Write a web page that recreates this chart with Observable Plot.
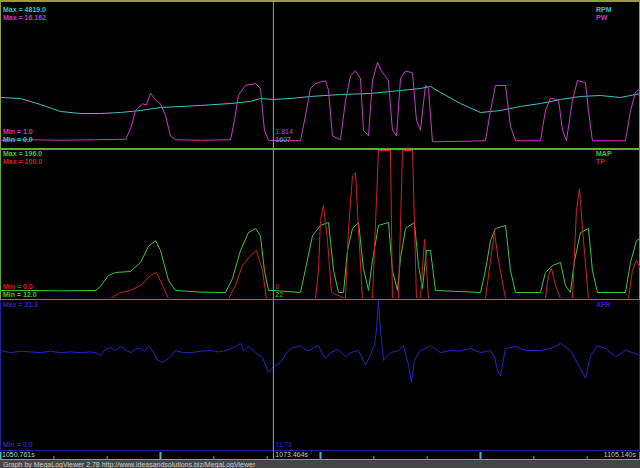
<!DOCTYPE html>
<html><head><meta charset="utf-8">
<script src="https://cdn.jsdelivr.net/npm/d3@7"></script>
<script src="https://cdn.jsdelivr.net/npm/@observablehq/plot@0.6"></script>
<style>
html,body{margin:0;padding:0;background:#000;}
#chart{position:relative;width:640px;height:468px;background:#000;overflow:hidden;}
#chart svg{position:absolute;left:0;}
.bd{position:absolute;}
</style></head><body><div id="chart"></div><script>
// ---- data: time offsets (s) from view start 1050.761s ----
const viewStart = "1050.761s", cursorLabel = "1073.464s", viewEnd = "1105.140s";
const cursorT = 22.703;
const xDomain = [0, 53.25];

const rpmT = [0,1.66,3.33,4.99,6.66,8.32,9.98,11.65,13.31,16.64,19.14,20.80,21.63,22.70,24.13,25.79,28.29,30.78,33.28,34.94,35.78,36.61,38.27,39.94,41.60,43.26,44.93,46.59,48.26,49.92,51.58,53.25];
const rpmV = [1672,1639,1442,1213,1147,1147,1180,1246,1344,1410,1475,1541,1639,1607,1639,1705,1770,1803,1901,1967,2032,1836,1475,1180,1246,1377,1475,1606,1705,1737,1672,1803];

const pwT = [0,2.50,4.99,7.90,10.40,10.82,11.23,11.81,12.15,12.48,12.90,13.31,13.73,14.14,14.56,16.64,19.14,19.47,19.80,20.38,21.22,21.63,21.96,22.30,22.70,24.96,25.38,25.79,26.21,27.04,27.29,27.62,28.29,28.70,29.12,29.54,29.95,30.20,30.62,30.95,31.37,31.70,32.28,32.61,32.95,33.28,33.70,34.28,34.61,34.94,35.36,35.61,35.94,36.61,40.35,40.77,41.18,42.02,42.43,42.85,44.93,45.34,45.76,46.43,46.76,47.09,47.59,48.01,48.67,48.92,49.25,52.00,52.42,52.83,53.25];
const pwV = [1.85,1.9,1.85,1.9,1.95,3.0,4.9,5.6,5.5,6.7,6.0,5.6,4.4,2.3,1.9,1.85,1.9,3.9,6.5,7.5,7.7,7.2,2.9,1.85,1.814,1.8,4.4,7.2,7.7,8.0,7.0,2.3,1.9,5.9,8.5,9.0,8.2,2.9,2.3,8.0,9.9,9.0,8.0,2.9,2.3,8.2,9.0,8.8,3.9,2.9,7.5,7.2,1.7,1.7,1.8,4.9,7.5,7.5,3.3,1.8,1.8,4.9,6.2,6.0,2.9,1.8,6.0,8.0,7.8,4.9,1.8,1.8,4.9,6.8,7.2];

const mapT = [0,2.50,4.99,7.90,8.32,8.99,9.57,10.82,11.65,12.31,12.90,13.31,13.98,14.56,16.64,18.72,19.30,19.97,20.63,21.22,21.63,21.96,22.30,22.70,24.96,25.38,25.96,26.62,27.29,27.71,28.12,28.54,28.87,29.29,29.79,30.20,30.62,30.95,31.45,32.28,32.61,33.03,33.28,33.70,34.44,34.78,35.11,35.44,35.78,36.19,39.94,40.35,40.77,41.18,42.02,42.43,42.85,44.93,45.34,45.93,46.59,47.01,47.42,47.76,48.26,48.92,49.25,49.67,52.00,52.42,52.92,53.25];
const mapV = [22,22,21.5,22,27,40.6,44.3,45.6,56.8,76.6,84,71.7,34.4,22,20,19.5,36.9,71.7,94,99,90,46.8,22,22,19.5,49,90,102.8,106.5,46.8,19.5,19.5,71.7,99,106.5,49.3,22,59.2,102.8,106.5,46.8,22,61.7,99,106.5,53,24.4,71.7,71.7,22,19.5,46.8,84,99,102.8,46.8,19.5,19.5,44.3,53,56.8,28,19.5,59.2,94,99,46.8,19.5,19.5,56.8,84,86.6];

const tpT = [0,9.15,9.98,10.82,11.65,12.48,12.98,13.48,13.98,18.97,19.55,20.13,20.80,21.30,21.80,22.13,26.21,26.46,26.62,26.87,27.21,27.54,28.70,28.95,29.29,29.54,29.79,30.12,30.95,31.28,31.45,32.45,32.61,33.11,33.45,34.28,34.61,34.94,35.28,35.61,40.35,40.77,41.10,41.43,42.02,45.34,45.59,45.84,46.18,46.59,47.59,47.92,48.17,48.51,48.92,52.25,52.58,52.92,53.25];
const tpV = [0,0,4,5.4,8.8,15.5,17.6,8.8,0,0,8.8,22.3,29,32.4,19,0,0,19,52.7,62.8,39,4,0,46,83,85,46,0,0,66,100,100,0,0,100,100,0,0,40,0,0,25.7,44.6,25.7,0,0,15.5,20.3,8.8,0,0,59.5,74.3,39,0,0,18.9,25.7,20.3];

const afrT = [0,0.83,1.66,2.50,3.33,4.16,4.99,5.82,6.66,7.49,7.90,8.32,8.74,9.15,9.57,9.98,10.40,10.82,11.23,11.65,11.98,12.31,12.65,13.06,13.48,13.98,14.56,15.14,15.81,16.64,17.47,18.14,18.72,19.14,19.55,19.97,20.22,20.63,21.22,21.80,22.30,22.70,23.30,23.71,24.13,24.96,25.38,25.79,26.12,26.46,26.79,27.04,27.46,28.12,28.70,29.12,29.79,30.37,30.78,31.12,31.28,31.45,31.62,31.87,32.45,33.11,33.53,33.95,34.20,34.44,34.94,35.36,35.78,36.61,37.44,38.27,39.10,39.94,40.77,41.10,41.35,41.60,42.02,42.43,42.85,43.68,44.93,45.76,46.59,47.42,48.09,48.42,48.67,49.09,49.67,50.34,51.17,52.00,52.58,53.25];
const afrV = [14.1,13.8,14.0,13.9,13.8,14.0,13.8,13.9,13.8,13.9,13.8,13.4,14.25,14.5,14.1,14.7,14.2,13.8,14.3,14.4,14.0,14.8,14.1,12.7,12.4,12.95,14.1,13.8,13.8,14.0,14.1,13.9,14.1,14.3,14.7,15.1,14.1,14.7,13.8,13.1,10.9,11.76,12.4,13.5,14.4,14.8,14.2,14.1,14.6,14.8,13.6,12.95,13.8,14.25,13.2,13.8,14.1,12.0,13.4,15.0,17.0,21.3,17.0,12.7,13.8,14.1,14.8,12.0,9.5,12.7,14.1,14.4,14.8,13.8,14.1,14.0,14.4,13.8,14.1,13.2,11.2,10.5,14.4,14.5,14.7,14.1,14.1,14.4,15.1,14.1,12.0,11.0,10.1,13.4,14.8,14.4,13.2,14.1,13.8,13.4];

// series ranges (min/max of the log)
const rpmRange = [0, 4819], pwRange = [1, 16.162], mapRange = [12, 196], tpRange = [0, 100], afrRange = [0, 21.3];
const tickCount = 12;

// ---- styling ----
const C = {rpm:"#3cc4c4", pw:"#c63cc6", map:"#3cc83c", tp:"#d02020", afr:"#2424c8", cursor:"#62b4b4",
           b1:"#9c9c34", b2:"#5cb030", b3:"#4a7cc0", b3b:"#20209a", axis:"#40bcae", timeTxt:"#a8d4cc"};
const W = 640;
const root = document.getElementById("chart");
const rows = (T, V) => T.map((t, i) => ({t, v: V[i]}));

function trace(T, V, yDomain, color, top, h, mt, mb) {
  const p = Plot.plot({
    width: W, height: h, marginTop: mt, marginBottom: mb, marginLeft: 0, marginRight: 0,
    x: {domain: xDomain, axis: null}, y: {domain: yDomain, axis: null},
    style: {background: "transparent"},
    marks: [Plot.line(rows(T, V), {x: "t", y: "v", stroke: color, strokeWidth: 1, clip: true})]
  });
  p.style.top = top + "px";
  root.append(p);
  return p;
}

function box(x, y, w, h, c) {
  const d = document.createElement("div");
  d.className = "bd";
  Object.assign(d.style, {left: x + "px", top: y + "px", width: w + "px", height: h + "px", background: c});
  root.append(d);
}

// borders
box(0, 0, 640, 2, C.b1); box(0, 0, 1, 149, C.b1); box(639, 0, 1, 149, C.b1);
box(0, 148, 640, 2, C.b2); box(0, 150, 1, 149, C.b2); box(639, 150, 1, 149, C.b2);
box(0, 299, 640, 1, C.b3); box(0, 300, 1, 150, C.b3b); box(639, 300, 1, 150, C.b3b);
box(0, 450, 640, 1, C.b3b);
box(0, 460, 640, 8, "#454545");

// traces
const p1 = trace(rpmT, rpmV, rpmRange, C.rpm, 0, 149, 1, 1);
trace(pwT, pwV, pwRange, C.pw, 0, 149, 1, 1);
trace(mapT, mapV, mapRange, C.map, 150, 149, 0, 1);
trace(tpT, tpV, tpRange, C.tp, 150, 149, 0, 1);
trace(afrT, afrV, afrRange, C.afr, 300, 149, 0, 1);

// time strip with ticks
const tickTimes = d3.range(tickCount + 1).map(i => xDomain[0] + i * (xDomain[1] - xDomain[0]) / tickCount);
const strip = Plot.plot({
  width: W, height: 11, margin: 0,
  x: {domain: xDomain, axis: null}, y: {domain: [0, 11], range: [0, 11], axis: null},
  style: {background: "transparent"},
  marks: [
    Plot.ruleY([10], {stroke: C.axis, strokeWidth: 1}),
    Plot.ruleX(tickTimes.map((t, i) => ({t, tall: i % 3 === 0})), {x: d => Math.min(d.t, xDomain[1] - 0.02), y1: d => d.tall ? 3 : 7, y2: 10, stroke: C.axis, strokeWidth: d => d.tall ? 2 : 1})
  ]
});
strip.style.top = "449px";
root.append(strip);

// cursor line across all panels
const cur = Plot.plot({
  width: W, height: 459, margin: 0,
  x: {domain: xDomain, axis: null},
  style: {background: "transparent"},
  marks: [Plot.ruleX([cursorT], {stroke: C.cursor, strokeWidth: 1})]
});
cur.style.top = "0px";
root.append(cur);

const cx = p1.scale("x").apply(cursorT);

// text overlay
const svg = d3.create("svg").attr("width", W).attr("height", 468).style("top", "0px")
  .style("font-family", "'Liberation Sans', Arial, sans-serif");
function txt(x, y, s, c, opts = {}) {
  svg.append("text").attr("x", x).attr("y", y).text(s).attr("fill", c)
    .attr("font-size", opts.size || 7).attr("font-weight", opts.weight || "bold")
    .attr("text-anchor", opts.anchor || "start");
}
const fmt1 = d3.format(".1f");
txt(3, 12, "Max = " + fmt1(rpmRange[1]), C.rpm);
txt(3, 20, "Max = " + d3.format(".3f")(pwRange[1]), C.pw);
txt(596, 12, "RPM", C.rpm);
txt(596, 20, "PW", C.pw);
txt(3, 133.5, "Min = " + fmt1(pwRange[0]), C.pw);
txt(3, 141.5, "Min = " + fmt1(rpmRange[0]), C.rpm);
txt(cx + 2.5, 133.5, "1.814", C.pw, {weight: "normal"});
txt(cx + 2.5, 141.5, "1607", C.rpm, {weight: "normal"});

txt(3, 156.3, "Max = " + fmt1(mapRange[1]), C.map);
txt(3, 164.3, "Max = " + fmt1(tpRange[1]), C.tp);
txt(596, 156.3, "MAP", C.map);
txt(596, 164.3, "TP", C.tp);
txt(3, 289.3, "Min = " + fmt1(tpRange[0]), C.tp);
txt(3, 297.3, "Min = " + fmt1(mapRange[0]), C.map);
txt(cx + 2.5, 289.3, "0", C.tp, {weight: "normal"});
txt(cx + 2.5, 297.3, "22", C.map, {weight: "normal"});

txt(3, 306.5, "Max = " + fmt1(afrRange[1]), C.afr);
txt(596, 306.5, "AFR", C.afr);
txt(3, 447, "Min = " + fmt1(afrRange[0]), C.afr);
txt(cx + 2.5, 447, "11.76", C.afr, {weight: "normal"});

txt(2, 456.5, viewStart, C.timeTxt, {weight: "normal", size: 7});
txt(cx + 2.5, 456.5, cursorLabel, C.timeTxt, {weight: "normal", size: 7});
txt(636, 456.5, viewEnd, C.timeTxt, {weight: "normal", size: 7, anchor: "end"});
txt(3, 466.7, "Graph by MegaLogViewer 2.78 http://www.ideasandsolutions.biz/MegaLogViewer", "#d0d0d0", {weight: "normal", size: 7});
root.append(svg.node());
</script></body></html>
